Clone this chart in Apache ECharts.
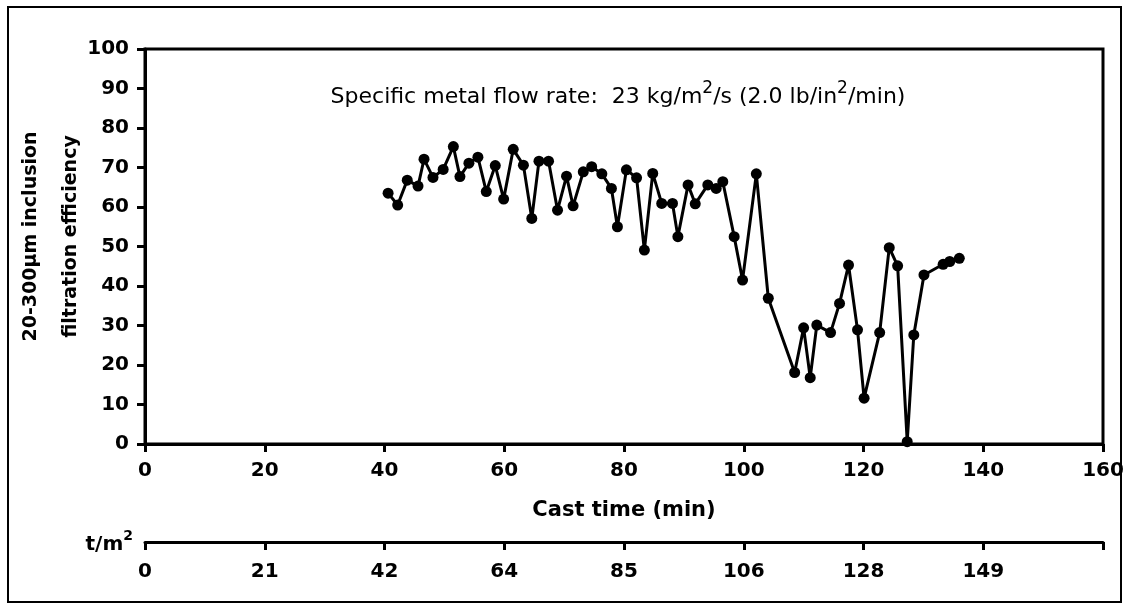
<!DOCTYPE html>
<html>
<head>
<meta charset="utf-8">
<script src="https://cdn.jsdelivr.net/npm/echarts@6/dist/echarts.min.js"></script>
<style>
html,body{margin:0;padding:0;background:#fff;}
#c{width:1130px;height:612px;}
</style>
</head>
<body>
<div id="c"></div>
<script>
// Cast time (min)
const castTime = [40.6,42.2,43.8,45.6,46.6,48.1,49.8,51.5,52.6,54.1,55.6,57.0,58.5,59.9,61.5,63.2,64.6,65.8,67.4,68.9,70.4,71.5,73.2,74.6,76.3,77.9,78.9,80.4,82.1,83.4,84.8,86.3,88.1,89.0,90.7,91.9,94.0,95.4,96.5,98.4,99.8,102.1,104.1,108.5,110.0,111.1,112.2,114.5,116.0,117.5,119.0,120.1,122.7,124.3,125.7,127.3,128.4,130.1,133.3,134.4,136.0];
// 20-300 µm inclusion filtration efficiency (%)
const efficiency = [63.5,60.5,66.8,65.3,72.1,67.5,69.5,75.3,67.7,71.1,72.6,63.9,70.5,62.0,74.6,70.6,57.1,71.6,71.6,59.2,67.8,60.3,68.9,70.2,68.4,64.7,55.0,69.4,67.4,49.1,68.5,60.9,60.9,52.5,65.6,60.8,65.6,64.7,66.4,52.5,41.5,68.4,36.9,18.1,29.4,16.8,30.1,28.2,35.6,45.3,28.9,11.6,28.2,49.7,45.1,0.6,27.6,42.8,45.5,46.2,47.0];
// secondary axis tick labels (t/m2) at cast time 0,20,...,140
const tLabels = ['0','21','42','64','85','106','128','149'];

const seriesData = castTime.map((t, i) => [t, efficiency[i]]);

const FONT = 'DejaVu Sans';
const labelStyle = { color: '#000', fontFamily: FONT, fontWeight: 'bold', fontSize: 20 };

const chart = echarts.init(document.getElementById('c'), null, { renderer: 'canvas' });
chart.setOption({
  backgroundColor: '#fff',
  animation: false,
  graphic: [
    { type: 'rect', shape: { x: 8, y: 7, width: 1113, height: 595 }, style: { fill: 'none', stroke: '#000', lineWidth: 2 }, z: 0 },
    { type: 'text', x: 618, y: 94,
      style: {
        text: '{n|Specific metal flow rate:  23 kg/m}{s|2}{n|/s (2.0 lb/in}{s|2}{n|/min)}',
        align: 'center', verticalAlign: 'middle',
        rich: {
          n: { fontFamily: FONT, fontSize: 22, fill: '#000', lineHeight: 28, verticalAlign: 'bottom' },
          s: { fontFamily: FONT, fontSize: 17, fill: '#000', lineHeight: 28, verticalAlign: 'top' }
        }
      }
    }
  ],
  grid: { left: 145, right: 27, top: 49, bottom: 168, show: true, borderColor: '#000', borderWidth: 3, outerBoundsMode: 'none', containLabel: false },
  xAxis: [
    {
      type: 'value', min: 0, max: 160, interval: 20,
      name: 'Cast time (min)', nameLocation: 'middle', nameGap: 56,
      nameTextStyle: { color: '#000', fontFamily: FONT, fontWeight: 'bold', fontSize: 21 },
      axisLine: { show: true, onZero: false, lineStyle: { color: '#000', width: 3 } },
      axisTick: { show: true, inside: false, length: 8, lineStyle: { color: '#000', width: 3 } },
      axisLabel: Object.assign({ margin: 17 }, labelStyle),
      splitLine: { show: false }
    },
    {
      type: 'value', min: 0, max: 160, interval: 20, position: 'bottom', offset: 98,
      name: '{a|t/m}{b|2}', nameLocation: 'start', nameGap: 12,
      nameTextStyle: {
        rich: {
          a: { fontFamily: FONT, fontWeight: 'bold', fontSize: 20, color: '#000', lineHeight: 26, verticalAlign: 'bottom' },
          b: { fontFamily: FONT, fontWeight: 'bold', fontSize: 14, color: '#000', lineHeight: 26, verticalAlign: 'top' }
        }
      },
      axisLine: { show: true, onZero: false, lineStyle: { color: '#000', width: 3 } },
      axisTick: { show: true, inside: false, length: 8, lineStyle: { color: '#000', width: 3 } },
      axisLabel: Object.assign({ margin: 20, formatter: v => { const i = Math.round(v / 20); return i < tLabels.length ? tLabels[i] : ''; } }, labelStyle),
      splitLine: { show: false }
    }
  ],
  yAxis: [
    {
      type: 'value', min: 0, max: 100, interval: 10,
      name: '20-300µm inclusion\nfiltration efficiency', nameLocation: 'middle', nameGap: 54, nameMoveOverlap: false,
      nameTextStyle: { color: '#000', fontFamily: FONT, fontWeight: 'bold', fontSize: 19, lineHeight: 40, padding: [0, 0, 0, 20] },
      axisLine: { show: true, onZero: false, lineStyle: { color: '#000', width: 3 } },
      axisTick: { show: true, inside: false, length: 8, lineStyle: { color: '#000', width: 3 } },
      axisLabel: Object.assign({ margin: 16 }, labelStyle),
      splitLine: { show: false }
    }
  ],
  series: [
    {
      type: 'line', xAxisIndex: 0, yAxisIndex: 0,
      data: seriesData,
      symbol: 'circle', symbolSize: 11,
      lineStyle: { color: '#000', width: 3 },
      itemStyle: { color: '#000' },
      clip: false
    }
  ]
});
</script>
</body>
</html>
